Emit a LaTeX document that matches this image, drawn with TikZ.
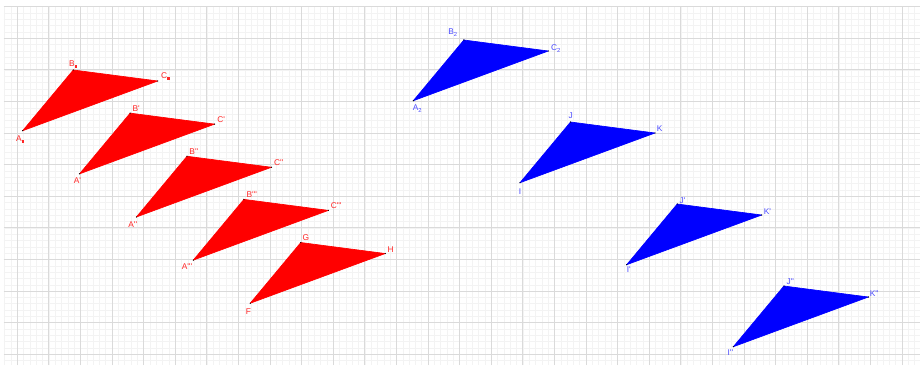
\documentclass[tikz,border=0pt]{standalone}
\usepackage{fontspec}
\setmainfont{Liberation Sans}
\usetikzlibrary{positioning, calc}
\definecolor{ggbred}{RGB}{255, 0, 0}
\definecolor{ggbblue}{RGB}{0, 0, 255}
\definecolor{ggbmajor}{RGB}{218, 218, 218}
\definecolor{ggbminor}{RGB}{243, 243, 243}
\newcommand{\apo}{\textquotesingle}
\newcommand{\sqsub}{\textsubscript{\rule{2.2pt}{2.6pt}}}

\begin{document}
\begin{tikzpicture}[
    minorgrid/.style={draw=ggbminor, line width=0.5pt},
    majorgrid/.style={draw=ggbmajor, line width=0.8pt},
    redtri/.style={fill=ggbred, draw=ggbred, line width=0.6pt, line join=round},
    bluetri/.style={fill=ggbblue, draw=ggbblue, line width=0.6pt, line join=round},
    redlbl/.style={font=\fontsize{7.5}{9}\selectfont, text=ggbred!85, inner sep=0pt},
    bluelbl/.style={font=\fontsize{7.5}{9}\selectfont, text=ggbblue!70, inner sep=0pt}
]

\useasboundingbox (-0.547,-0.339) rectangle (28.598,11.212);
\fill[white] (-0.547,-0.339) rectangle (28.598,11.212);

% Cuadricula
\draw[minorgrid, step=0.2] (-0.421,-0.339) grid (28.566,11.001);
\draw[majorgrid, step=1] (-0.421,-0.339) grid (28.566,11.001);

% Triangulo original y vectores de traslacion
\coordinate (A) at (0.171,7.076);
\coordinate (B) at (1.772,8.997);
\coordinate (C) at (4.443,8.649);
\coordinate (v) at (1.8,-1.365);
\coordinate (u) at (12.361,0.949);
\coordinate (w) at (3.376,-2.595);

% Traslaciones rojas
\coordinate (Ap) at ($(A)+(v)$);
\coordinate (Bp) at ($(B)+(v)$);
\coordinate (Cp) at ($(C)+(v)$);
\coordinate (Ad) at ($(A)+2*(v)$);
\coordinate (Bd) at ($(B)+2*(v)$);
\coordinate (Cd) at ($(C)+2*(v)$);
\coordinate (At) at ($(A)+3*(v)$);
\coordinate (Bt) at ($(B)+3*(v)$);
\coordinate (Ct) at ($(C)+3*(v)$);
\coordinate (F) at ($(A)+4*(v)$);
\coordinate (G) at ($(B)+4*(v)$);
\coordinate (H) at ($(C)+4*(v)$);

% Traslaciones azules
\coordinate (Ab) at ($(A)+(u)$);
\coordinate (Bb) at ($(B)+(u)$);
\coordinate (Cb) at ($(C)+(u)$);
\coordinate (I) at ($(Ab)+(w)$);
\coordinate (J) at ($(Bb)+(w)$);
\coordinate (K) at ($(Cb)+(w)$);
\coordinate (Ip) at ($(Ab)+2*(w)$);
\coordinate (Jp) at ($(Bb)+2*(w)$);
\coordinate (Kp) at ($(Cb)+2*(w)$);
\coordinate (Id) at ($(Ab)+3*(w)$);
\coordinate (Jd) at ($(Bb)+3*(w)$);
\coordinate (Kd) at ($(Cb)+3*(w)$);

% Triangulos
\draw[redtri] (A) -- (B) -- (C) -- cycle;
\draw[redtri] (Ap) -- (Bp) -- (Cp) -- cycle;
\draw[redtri] (Ad) -- (Bd) -- (Cd) -- cycle;
\draw[redtri] (At) -- (Bt) -- (Ct) -- cycle;
\draw[redtri] (F) -- (G) -- (H) -- cycle;
\draw[bluetri] (Ab) -- (Bb) -- (Cb) -- cycle;
\draw[bluetri] (I) -- (J) -- (K) -- cycle;
\draw[bluetri] (Ip) -- (Jp) -- (Kp) -- cycle;
\draw[bluetri] (Id) -- (Jd) -- (Kd) -- cycle;

% Puntos
\foreach \p in {A,B,C,Ap,Bp,Cp,Ad,Bd,Cd,At,Bt,Ct,F,G,H,Ab,Bb,Cb,I,J,K,Ip,Jp,Kp,Id,Jd,Kd}
    \fill[black] (\p) circle (0.6pt);

% Etiquetas rojas
\node[redlbl, below left=0.16cm and -0.07cm of A] (lA) {A\sqsub};
\node[redlbl, above=0.06cm of B] (lB) {B\sqsub};
\node[redlbl, above right=0.03cm and 0.1cm of C] (lC) {C\sqsub};
\node[redlbl, below left=0.13cm and -0.05cm of Ap] (lAp) {A\apo};
\node[redlbl, above right=0.06cm and 0.07cm of Bp] (lBp) {B\apo};
\node[redlbl, above right=0.04cm and 0.08cm of Cp] (lCp) {C\apo};
\node[redlbl, below left=0.16cm and -0.03cm of Ad] (lAd) {A\apo\apo};
\node[redlbl, above right=0.06cm and 0.07cm of Bd] (lBd) {B\apo\apo};
\node[redlbl, above right=0.04cm and 0.08cm of Cd] (lCd) {C\apo\apo};
\node[redlbl, below left=0.12cm and 0.03cm of At] (lAt) {A\apo\apo\apo};
\node[redlbl, above right=0.05cm and 0.08cm of Bt] (lBt) {B\apo\apo\apo};
\node[redlbl, above right=0.04cm and 0.07cm of Ct] (lCt) {C\apo\apo\apo};
\node[redlbl, below left=0.16cm and -0.03cm of F] (lF) {F};
\node[redlbl, above right=0.04cm and 0.05cm of G] (lG) {G};
\node[redlbl, above right=0.02cm and 0.07cm of H] (lH) {H};

% Etiquetas azules
\node[bluelbl, below right=0.13cm and -0.02cm of Ab] (lAb) {A\textsubscript{2}};
\node[bluelbl, above left=0.11cm and 0.19cm of Bb] (lBb) {B\textsubscript{2}};
\node[bluelbl, above right=-0.05cm and 0.08cm of Cb] (lCb) {C\textsubscript{2}};
\node[bluelbl, below=0.2cm of I] (lI) {I};
\node[bluelbl, above=0.09cm of J] (lJ) {J};
\node[bluelbl, above right=0.03cm and 0.05cm of K] (lK) {K};
\node[bluelbl, below right=0.06cm and 0cm of Ip] (lIp) {I\apo};
\node[bluelbl, above right=0cm and 0.07cm of Jp] (lJp) {J\apo};
\node[bluelbl, above right=0cm and 0.06cm of Kp] (lKp) {K\apo};
\node[bluelbl, below left=0.1cm and 0cm of Id] (lId) {I\apo\apo};
\node[bluelbl, above right=0.04cm and 0.08cm of Jd] (lJd) {J\apo\apo};
\node[bluelbl, above right=0.02cm and 0.04cm of Kd] (lKd) {K\apo\apo};

\end{tikzpicture}
\end{document}
